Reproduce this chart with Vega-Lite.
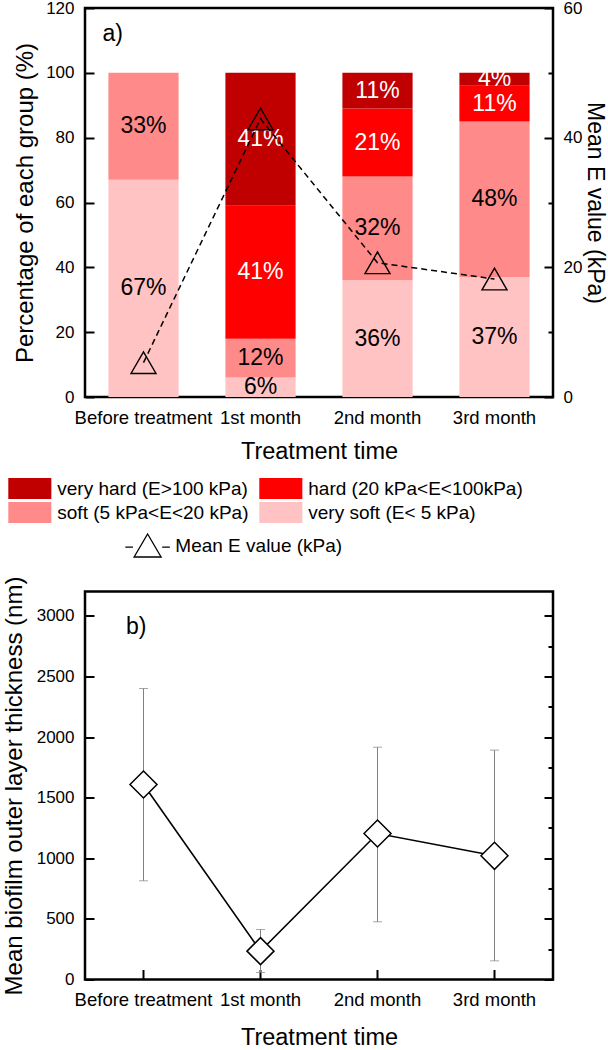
{
  "$schema": "https://vega.github.io/schema/vega-lite/v6.json",
  "padding": {"left": 0, "top": -3, "right": 0, "bottom": 0},
  "config": {
    "font": "Liberation Sans",
    "view": {"stroke": "black", "strokeWidth": 2.5},
    "axis": {"domain": false, "grid": false, "zindex": 1, "labelColor": "black", "titleColor": "black", "tickColor": "black", "tickWidth": 2, "titleFontWeight": "normal", "labelFlush": false, "labelOverlap": false, "labelBound": false}
  },
  "datasets": {
    "bars": [
      {"month": "Before treatment", "cat": "very soft (E< 5 kPa)", "ord": 1, "pct": 67, "label": "67%"},
      {"month": "Before treatment", "cat": "soft (5 kPa<E<20 kPa)", "ord": 2, "pct": 33, "label": "33%"},
      {"month": "1st month", "cat": "very soft (E< 5 kPa)", "ord": 1, "pct": 6, "label": "6%"},
      {"month": "1st month", "cat": "soft (5 kPa<E<20 kPa)", "ord": 2, "pct": 12, "label": "12%"},
      {"month": "1st month", "cat": "hard (20 kPa<E<100kPa)", "ord": 3, "pct": 41, "label": "41%"},
      {"month": "1st month", "cat": "very hard (E>100 kPa)", "ord": 4, "pct": 41, "label": "41%"},
      {"month": "2nd month", "cat": "very soft (E< 5 kPa)", "ord": 1, "pct": 36, "label": "36%"},
      {"month": "2nd month", "cat": "soft (5 kPa<E<20 kPa)", "ord": 2, "pct": 32, "label": "32%"},
      {"month": "2nd month", "cat": "hard (20 kPa<E<100kPa)", "ord": 3, "pct": 21, "label": "21%"},
      {"month": "2nd month", "cat": "very hard (E>100 kPa)", "ord": 4, "pct": 11, "label": "11%"},
      {"month": "3rd month", "cat": "very soft (E< 5 kPa)", "ord": 1, "pct": 37, "label": "37%"},
      {"month": "3rd month", "cat": "soft (5 kPa<E<20 kPa)", "ord": 2, "pct": 48, "label": "48%"},
      {"month": "3rd month", "cat": "hard (20 kPa<E<100kPa)", "ord": 3, "pct": 11, "label": "11%"},
      {"month": "3rd month", "cat": "very hard (E>100 kPa)", "ord": 4, "pct": 4, "label": "4%"}
    ],
    "emean": [
      {"month": "Before treatment", "E": 5.3, "series": "Mean E value (kPa)"},
      {"month": "1st month", "E": 42.9, "series": "Mean E value (kPa)"},
      {"month": "2nd month", "E": 20.7, "series": "Mean E value (kPa)"},
      {"month": "3rd month", "E": 18.2, "series": "Mean E value (kPa)"}
    ],
    "thick": [
      {"month": "Before treatment", "mean": 1608, "lo": 814, "hi": 2400},
      {"month": "1st month", "mean": 234, "lo": 58, "hi": 412},
      {"month": "2nd month", "mean": 1204, "lo": 476, "hi": 1916},
      {"month": "3rd month", "mean": 1020, "lo": 154, "hi": 1892}
    ]
  },
  "spacing": 12.5,
  "resolve": {"scale": {"color": "independent"}, "legend": {"color": "independent"}},
  "vconcat": [
    {
      "width": 468,
      "height": 389,
      "encoding": {
        "x": {
          "field": "month", "type": "nominal",
          "sort": ["Before treatment", "1st month", "2nd month", "3rd month"],
          "scale": {"paddingInner": 0.4, "paddingOuter": 0.2},
          "axis": {"title": "Treatment time", "ticks": false, "labelAngle": 0, "labelPadding": 11, "labelFontSize": 18.5, "titleFontSize": 23.5, "titlePadding": 13}
        }
      },
      "layer": [
        {
          "layer": [
            {
              "data": {"name": "bars"},
              "mark": {"type": "bar"},
              "encoding": {
                "y": {
                  "field": "pct", "type": "quantitative", "stack": "zero",
                  "scale": {"domain": [0, 120], "nice": false},
                  "axis": {
                    "title": "Percentage of each group (%)",
                    "values": [0, 10, 20, 30, 40, 50, 60, 70, 80, 90, 100, 110, 120],
                    "labelExpr": "datum.value % 20 === 0 ? datum.label : ''",
                    "tickSize": {"condition": {"test": "datum.value % 20 === 0", "value": -9}, "value": -5},
                    "labelPadding": 20, "labelFontSize": 17, "titleFontSize": 24, "titlePadding": 8
                  }
                },
                "color": {
                  "field": "cat", "type": "nominal",
                  "scale": {
                    "domain": ["very hard (E>100 kPa)", "hard (20 kPa<E<100kPa)", "soft (5 kPa<E<20 kPa)", "very soft (E< 5 kPa)"],
                    "range": ["#c00000", "#fe0000", "#ff8a8a", "#ffc3c3"]
                  },
                  "legend": {
                    "orient": "none", "legendX": -76.7, "legendY": 470, "title": null, "direction": "horizontal",
                    "columns": 2, "columnPadding": 10, "rowPadding": 3, "padding": 0,
                    "symbolType": "M-1,-1H3.1V1H-1Z", "symbolSize": 441, "symbolStrokeWidth": 0, "symbolOpacity": 1,
                    "labelFontSize": 19, "labelOffset": 28, "labelLimit": 400, "labelColor": "black"
                  }
                },
                "order": {"field": "ord", "type": "quantitative"}
              }
            },
            {
              "data": {"name": "bars"},
              "mark": {"type": "text", "fontSize": 23, "baseline": "middle"},
              "encoding": {
                "y": {"field": "pct", "type": "quantitative", "stack": "zero", "bandPosition": 0.5},
                "detail": {"field": "cat"},
                "order": {"field": "ord", "type": "quantitative"},
                "text": {"field": "label"},
                "color": {"condition": {"test": "datum.ord >= 3", "value": "white"}, "value": "black"}
              }
            },
            {
              "data": {"values": [{"month": "Before treatment", "pct": 112, "label": "a)"}]},
              "mark": {"type": "text", "fontSize": 23, "align": "left", "baseline": "middle", "color": "black", "dx": -6},
              "encoding": {
                "x": {"field": "month", "type": "nominal", "sort": ["Before treatment", "1st month", "2nd month", "3rd month"], "bandPosition": 0, "title": "Treatment time"},
                "y": {"field": "pct", "type": "quantitative"},
                "text": {"field": "label"}
              }
            }
          ]
        },
        {
          "data": {"name": "emean"},
          "layer": [
            {
              "mark": {"type": "line", "color": "black", "strokeWidth": 1.5, "strokeDash": [6, 4]},
              "encoding": {
                "y": {
                  "field": "E", "type": "quantitative",
                  "scale": {"domain": [0, 60], "nice": false},
                  "axis": {
                    "orient": "right", "title": "Mean E value (kPa)",
                    "values": [0, 10, 20, 30, 40, 50, 60],
                    "labelExpr": "datum.value % 20 === 0 ? datum.label : ''",
                    "tickSize": {"condition": {"test": "datum.value % 20 === 0", "value": -9}, "value": -5},
                    "labelPadding": 19, "labelFontSize": 17, "titleFontSize": 23, "titlePadding": 1
                  }
                }
              }
            },
            {
              "mark": {"type": "point", "shape": "triangle-up", "filled": false, "strokeWidth": 1.4, "size": 625, "opacity": 1},
              "encoding": {
                "y": {
                  "field": "E", "type": "quantitative",
                  "scale": {"domain": [0, 60], "nice": false},
                  "axis": {
                    "orient": "right", "title": "Mean E value (kPa)",
                    "values": [0, 10, 20, 30, 40, 50, 60],
                    "labelExpr": "datum.value % 20 === 0 ? datum.label : ''",
                    "tickSize": {"condition": {"test": "datum.value % 20 === 0", "value": -9}, "value": -5},
                    "labelPadding": 19, "labelFontSize": 17, "titleFontSize": 23, "titlePadding": 1
                  }
                },
                "color": {
                  "field": "series", "type": "nominal",
                  "scale": {"domain": ["Mean E value (kPa)"], "range": ["black"]},
                  "legend": {
                    "orient": "none", "legendX": 48.1, "legendY": 523, "title": null, "padding": 0,
                    "symbolType": "M-1.65,0.12L-1.08,0.12M-1,0.85L0,-0.85L1,0.85ZM1.08,0.12L1.65,0.12",
                    "symbolSize": 729, "symbolStrokeColor": "black", "symbolFillColor": "transparent", "symbolStrokeWidth": 1.3,
                    "labelFontSize": 19, "labelOffset": 13.2, "labelColor": "black", "labelLimit": 300
                  }
                }
              }
            }
          ]
        }
      ],
      "resolve": {"scale": {"y": "independent", "color": "independent"}, "legend": {"color": "independent"}}
    },
    {
      "width": 468,
      "height": 388,
      "data": {"name": "thick"},
      "encoding": {
        "x": {
          "field": "month", "type": "nominal",
          "sort": ["Before treatment", "1st month", "2nd month", "3rd month"],
          "scale": {"paddingInner": 0.4, "paddingOuter": 0.2},
          "axis": {"title": "Treatment time", "tickSize": -10, "labelAngle": 0, "labelPadding": 21, "labelFontSize": 18.5, "titleFontSize": 23.5, "titlePadding": 16}
        }
      },
      "layer": [
        {
          "layer": [
            {
              "mark": {"type": "errorbar", "color": "#808080", "thickness": 1, "ticks": {"size": 9, "color": "#808080"}},
              "encoding": {
                "y": {
                  "field": "lo", "type": "quantitative",
                  "scale": {"domain": [0, 3200], "nice": false},
                  "axis": {
                    "title": "Mean biofilm outer layer thickness (nm)",
                    "values": [0, 250, 500, 750, 1000, 1250, 1500, 1750, 2000, 2250, 2500, 2750, 3000],
                    "format": "d",
                    "labelExpr": "datum.value % 500 === 0 ? datum.label : ''",
                    "tickSize": {"condition": {"test": "datum.value % 500 === 0", "value": -9}, "value": -5},
                    "labelPadding": 20, "labelFontSize": 17, "titleFontSize": 24, "titlePadding": 10
                  }
                },
                "y2": {"field": "hi"}
              }
            },
            {
              "mark": {"type": "line", "color": "black", "strokeWidth": 1.6},
              "encoding": {
                "y": {"field": "mean", "type": "quantitative", "title": "Mean biofilm outer layer thickness (nm)"}
              }
            },
            {
              "mark": {"type": "point", "shape": "diamond", "size": 729, "filled": true, "fill": "white", "stroke": "black", "strokeWidth": 1.5, "opacity": 1},
              "encoding": {
                "y": {"field": "mean", "type": "quantitative", "title": "Mean biofilm outer layer thickness (nm)"}
              }
            },
            {
              "data": {"values": [{"month": "Before treatment", "mean": 2907, "label": "b)"}]},
              "mark": {"type": "text", "fontSize": 23, "align": "left", "baseline": "middle", "color": "black"},
              "encoding": {
                "x": {"field": "month", "type": "nominal", "sort": ["Before treatment", "1st month", "2nd month", "3rd month"], "bandPosition": 0.25, "title": "Treatment time"},
                "y": {"field": "mean", "type": "quantitative", "title": "Mean biofilm outer layer thickness (nm)"},
                "text": {"field": "label"}
              }
            }
          ]
        },
        {
          "mark": {"type": "point", "opacity": 0},
          "encoding": {
            "y": {
              "field": "mean", "type": "quantitative",
              "scale": {"domain": [0, 3200], "nice": false},
              "axis": {
                "orient": "right", "title": null, "labels": false,
                "values": [0, 250, 500, 750, 1000, 1250, 1500, 1750, 2000, 2250, 2500, 2750, 3000],
                "tickSize": {"condition": {"test": "datum.value % 500 === 0", "value": -9}, "value": -5}
              }
            }
          }
        }
      ],
      "resolve": {"scale": {"y": "independent"}}
    }
  ]
}
